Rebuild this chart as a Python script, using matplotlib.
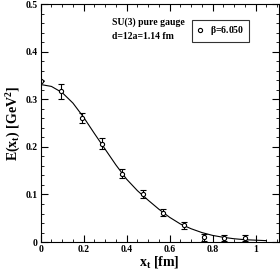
import matplotlib
matplotlib.use("Agg")
import matplotlib.pyplot as plt
from matplotlib.lines import Line2D
from matplotlib.ticker import MultipleLocator

# lattice data, beta = 6.050
x_t = [0.0, 0.095, 0.19, 0.285, 0.38, 0.475, 0.57, 0.665, 0.76, 0.855, 0.95]
e_x = [0.338, 0.317, 0.261, 0.207, 0.1435, 0.101, 0.062, 0.035, 0.010, 0.008, 0.008]
e_err = [0.0, 0.016, 0.011, 0.012, 0.009, 0.009, 0.008, 0.008, 0.007, 0.006, 0.006]

# fit curve
fit_x = [0.0, 0.05, 0.1, 0.15, 0.2, 0.25, 0.3, 0.35, 0.4, 0.45, 0.5, 0.55,
         0.6, 0.65, 0.7, 0.75, 0.8, 0.85, 0.9, 0.95, 1.0, 1.05]
fit_y = [0.331, 0.327, 0.314, 0.292, 0.262, 0.228, 0.195, 0.162, 0.132,
         0.108, 0.088, 0.069, 0.052, 0.038, 0.028, 0.020, 0.014, 0.010,
         0.007, 0.005, 0.004, 0.003]

plt.rcParams['font.family'] = ['Liberation Serif', 'DejaVu Serif']
plt.rcParams['font.weight'] = 'bold'
plt.rcParams['mathtext.fontset'] = 'custom'
plt.rcParams['mathtext.rm'] = 'Liberation Serif:bold'
plt.rcParams['mathtext.it'] = 'Liberation Serif:bold'
plt.rcParams['mathtext.bf'] = 'Liberation Serif:bold'

fig = plt.figure(figsize=(2.8, 2.72), dpi=100)
ax = fig.add_axes([0.1454, 0.110, 0.8496, 0.875])

ax.plot(fit_x, fit_y, color='black', lw=0.8)
ax.errorbar(x_t, e_x, yerr=e_err, fmt='o', ms=3, mfc='white', mec='black',
            mew=0.8, ecolor='black', elinewidth=0.8, capsize=2, capthick=0.8)

ax.set_xlim(0, 1.107)
ax.set_ylim(0, 0.5)
ax.xaxis.set_minor_locator(MultipleLocator(0.05))
ax.yaxis.set_minor_locator(MultipleLocator(0.02))
ax.set_xticks([0, 0.2, 0.4, 0.6, 0.8, 1.0])
ax.set_xticklabels(['0', '0.2', '0.4', '0.6', '0.8', '1'])
ax.set_yticks([0, 0.1, 0.2, 0.3, 0.4, 0.5])
ax.set_yticklabels(['0', '0.1', '0.2', '0.3', '0.4', '0.5'])
ax.tick_params(which='both', direction='in', top=True, right=True,
               labelsize=7, pad=2)
ax.tick_params(which='major', length=5)
ax.tick_params(which='minor', length=2.5)
for s in ax.spines.values():
    s.set_linewidth(0.8)

ax.set_xlabel(r'x$_\mathrm{t}$ [fm]', fontsize=10, fontweight='bold', labelpad=0)
ax.set_ylabel(r'E(x$_\mathrm{t}$) [GeV$^2$]', fontsize=10, fontweight='bold',
              labelpad=2)

ax.text(0.33, 0.456, 'SU(3) pure gauge', fontsize=7, fontweight='bold')
ax.text(0.33, 0.427, 'd=12a=1.14 fm', fontsize=7, fontweight='bold')

handle = Line2D([], [], ls='none', marker='o', ms=3, mfc='white', mec='black',
                mew=0.8)
leg = ax.legend([handle], [r'$\beta$=6.050'], loc='upper left',
                bbox_to_anchor=(0.636, 0.933), borderaxespad=0, fontsize=7,
                frameon=True, fancybox=False, edgecolor='black',
                handlelength=0.8, handletextpad=0.6, borderpad=0.45)
leg.get_frame().set_linewidth(0.8)

fig.savefig('out.png', dpi=100)
